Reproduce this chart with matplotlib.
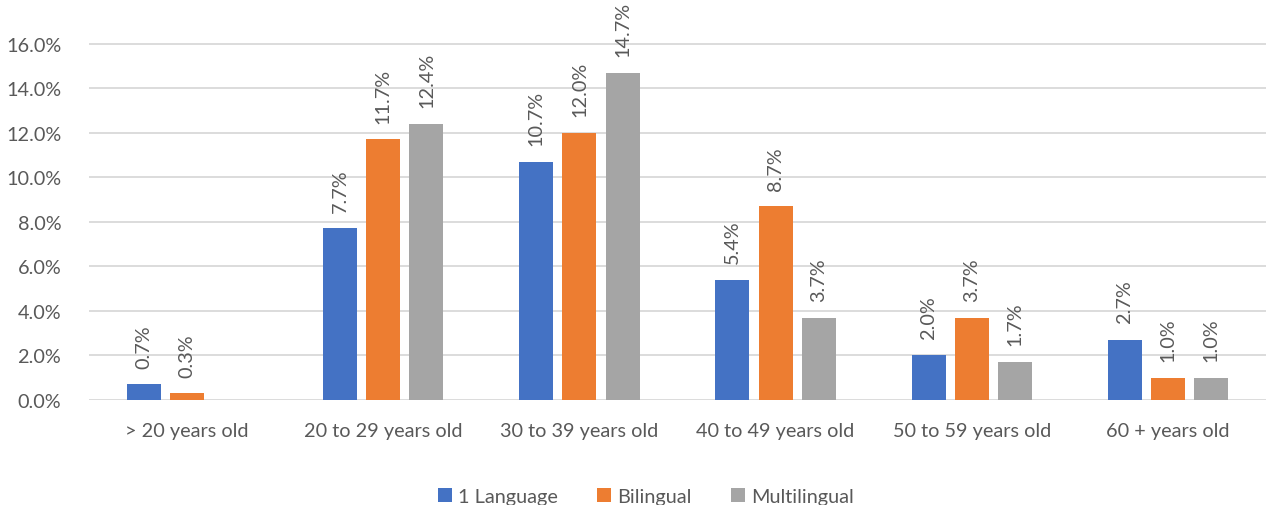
import numpy as np
import matplotlib
matplotlib.use("Agg")
import matplotlib.pyplot as plt
from matplotlib.patches import Patch

categories = ["> 20 years old", "20 to 29 years old", "30 to 39 years old",
              "40 to 49 years old", "50 to 59 years old", "60 + years old"]
series_names = ["1 Language", "Bilingual", "Multilingual"]
one_language = [0.7, 7.7, 10.7, 5.4, 2.0, 2.7]
bilingual = [0.3, 11.7, 12.0, 8.7, 3.7, 1.0]
multilingual = [None, 12.4, 14.7, 3.7, 1.7, 1.0]
colors = ["#4472C4", "#ED7D31", "#A5A5A5"]

TEXT = "#595959"
FS = 14.3
plt.rcParams['font.family'] = ['Lato', 'DejaVu Sans']

fig = plt.figure(figsize=(12.66, 5.06), dpi=100)
ax = fig.add_axes([0.0703, 0.2075, 0.9297, 0.7925])

x = np.arange(len(categories))
width = 0.174
step = 0.22
all_series = [one_language, bilingual, multilingual]
for i, (vals, col) in enumerate(zip(all_series, colors)):
    xs = x + (i - 1) * step
    for xi, v in zip(xs, vals):
        if v is None:
            continue
        ax.bar(xi, v, width=width, color=col, zorder=3)
        ax.annotate(f"{v:.1f}%", (xi, v), xytext=(0, 12), textcoords="offset points",
                    rotation=90, ha="center", va="bottom", fontsize=FS, color=TEXT)

ax.set_xlim(-0.5, len(categories) - 0.5)
ax.set_ylim(0, 18)
ax.set_yticks(np.arange(0, 17, 2))
ax.set_yticklabels([f"{t:.1f}%" for t in np.arange(0, 17, 2)])
ax.set_xticks(x)
ax.set_xticklabels(categories)
ax.tick_params(axis="both", length=0, labelsize=FS, colors=TEXT)
ax.tick_params(axis="y", pad=20)
ax.tick_params(axis="x", pad=16)
ax.grid(axis="y", color="#D9D9D9", linewidth=1.3, zorder=0)
for s in ax.spines.values():
    s.set_visible(False)

handles = [Patch(facecolor=c, edgecolor="none") for c in colors]
fig.legend(handles, series_names, loc="lower center", bbox_to_anchor=(0.51, -0.035),
           ncol=3, frameon=False, fontsize=FS, labelcolor=TEXT,
           handlelength=0.7, handleheight=0.7, handletextpad=0.3, columnspacing=2.0)

fig.savefig("out.png", dpi=100)
